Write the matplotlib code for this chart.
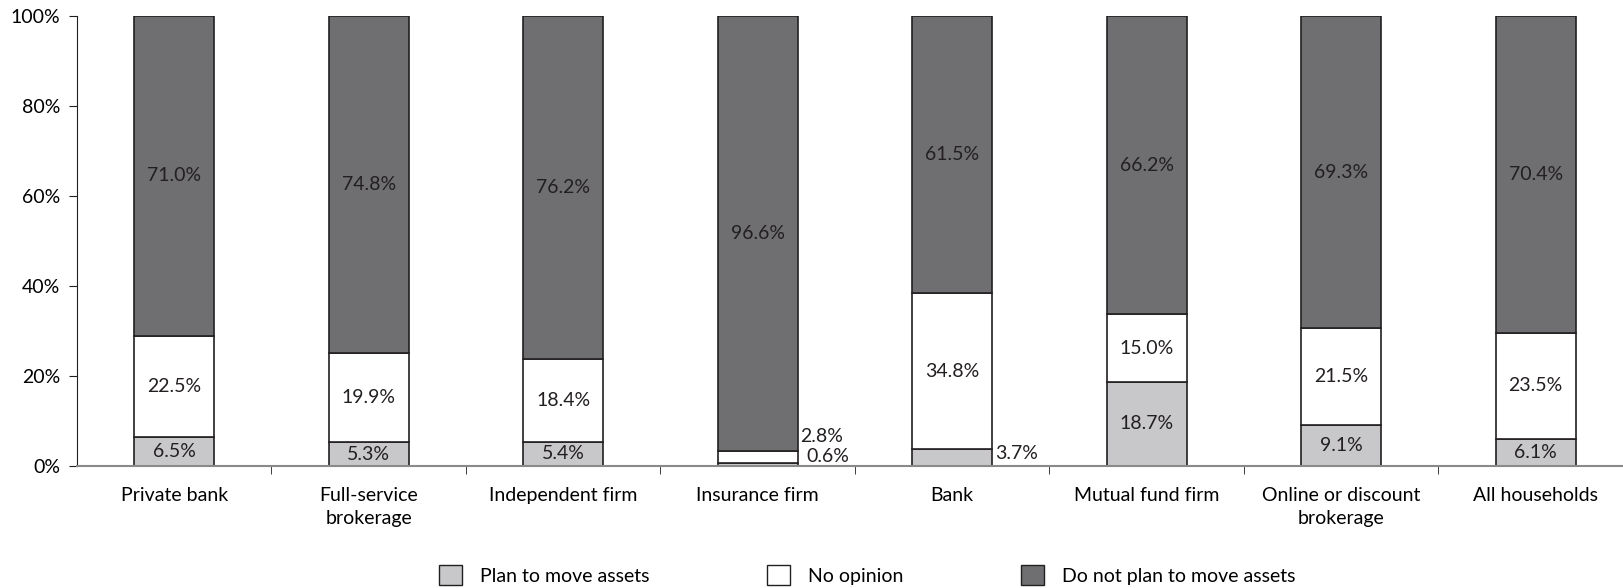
import numpy as np
import matplotlib.pyplot as plt
from matplotlib.patches import Patch

#Data
categories = ['Private bank', 'Full-service\nbrokerage', 'Independent firm', 'Insurance firm',
              'Bank', 'Mutual fund firm', 'Online or discount\nbrokerage', 'All households']
plan_move = [6.5, 5.3, 5.4, 0.6, 3.7, 18.7, 9.1, 6.1]
no_opinion = [22.5, 19.9, 18.4, 2.8, 34.8, 15.0, 21.5, 23.5]
not_move = [71.0, 74.8, 76.2, 96.6, 61.5, 66.2, 69.3, 70.4]

series_names = ['Plan to move assets', 'No opinion', 'Do not plan to move assets']
colors = ['#c8c8ca', '#ffffff', '#6f6f71']
edge = '#231f20'
fs = 14

plt.rcParams['font.family'] = ['Lato', 'DejaVu Sans']

fig = plt.figure(figsize=(16.24, 5.88), dpi=100)
ax = fig.add_axes([77 / 1624, 1 - 466 / 588, 1556 / 1624, 450 / 588])

x = np.arange(len(categories))
width = 0.41
bottom = np.zeros(len(categories))
for vals, col in zip([plan_move, no_opinion, not_move], colors):
    vals = np.array(vals)
    ax.bar(x, vals, width, bottom=bottom, color=col, edgecolor=edge, linewidth=1.2)
    for i, v in enumerate(vals):
        if v >= 5:
            ax.text(x[i], bottom[i] + v / 2, f'{v:.1f}%', ha='center', va='center',
                    fontsize=fs, color='#231f20')
    bottom += vals

#Small segments labelled beside the bar
ax.annotate('2.8%', (x[3] + width / 2, plan_move[3] + no_opinion[3]), xytext=(2, 10.5),
            textcoords='offset points', ha='left', va='center', fontsize=fs, color='#231f20')
ax.annotate('0.6%', (x[3] + width / 2, plan_move[3]), xytext=(6, 5),
            textcoords='offset points', ha='left', va='center', fontsize=fs, color='#231f20')
ax.annotate('3.7%', (x[4] + width / 2, plan_move[4]), xytext=(2, -3),
            textcoords='offset points', ha='left', va='center', fontsize=fs, color='#231f20')

ax.set_xlim(-0.5, len(categories) - 0.5)
ax.set_ylim(0, 100)
ax.set_yticks(np.arange(0, 101, 20))
ax.set_yticklabels([f'{t}%' for t in range(0, 101, 20)], fontsize=fs)
ax.set_xticks(x)
ax.set_xticklabels(categories, fontsize=fs, linespacing=1.45)
ax.set_xticks(np.arange(0.5, len(categories) - 0.5, 1), minor=True)
ax.tick_params(axis='x', which='major', length=0, pad=15)
ax.tick_params(axis='x', which='minor', length=6, color='#231f20')
ax.tick_params(axis='y', length=6, color='#231f20', pad=6)

ax.spines['top'].set_visible(False)
ax.spines['right'].set_visible(False)
ax.spines['bottom'].set_color('#8a8a8c')
ax.spines['bottom'].set_linewidth(1.5)
ax.spines['left'].set_color('#231f20')

handles = [Patch(facecolor=c, edgecolor=edge, label=n) for c, n in zip(colors, series_names)]
fig.legend(handles=handles, loc='center', bbox_to_anchor=(0.534, 1 - 575 / 588), ncol=3,
           frameon=False, fontsize=fs, handlelength=1.2, handleheight=1.2,
           columnspacing=6.05, handletextpad=0.9)

fig.savefig('out.png', dpi=100)
